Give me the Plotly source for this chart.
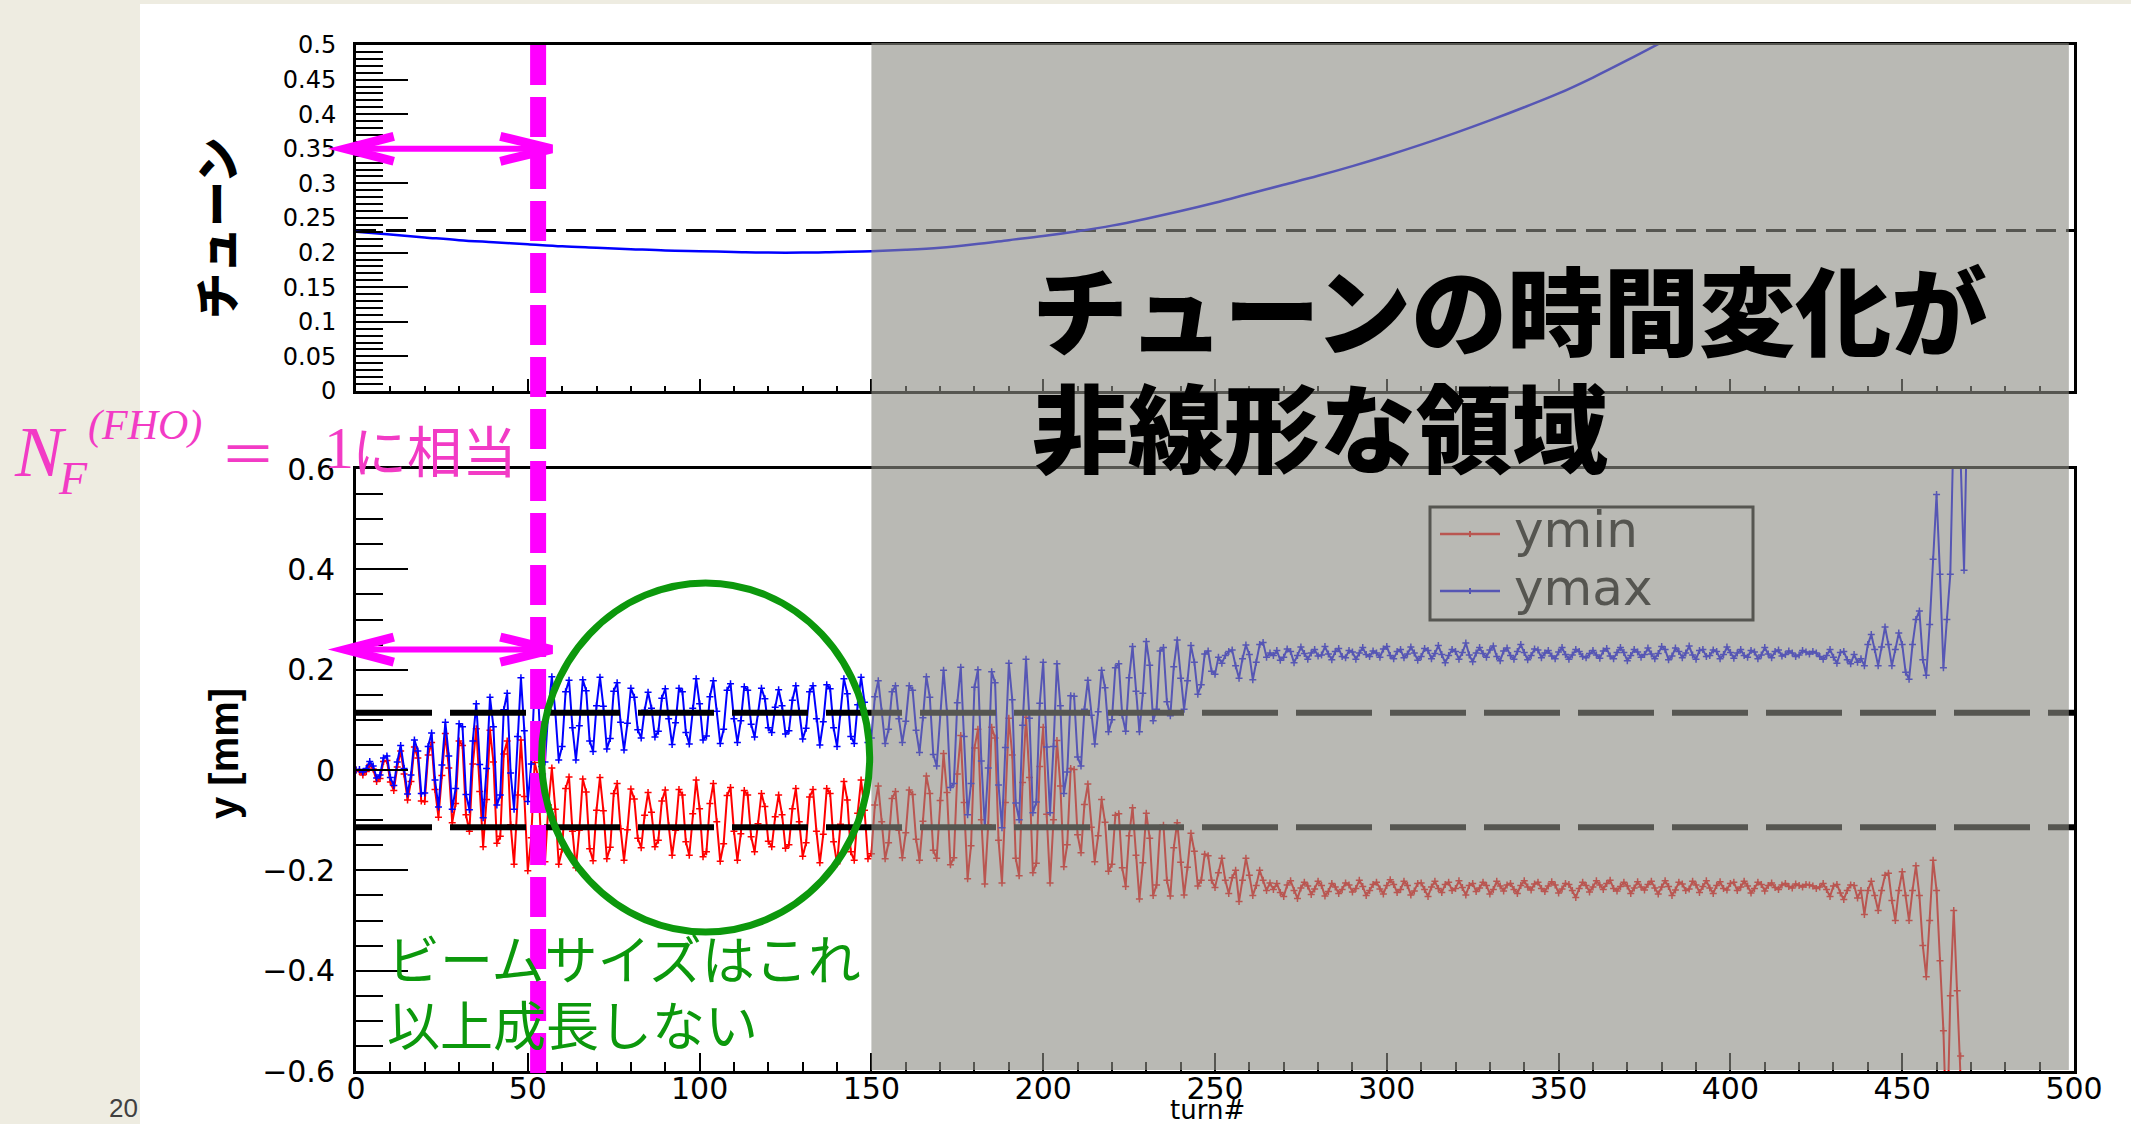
import plotly.graph_objects as go

W, H = 2131, 1124

# ---------------- upper panel: tune vs turn ----------------
tune_turn = [0, 10, 20, 30, 40, 50, 60, 70, 80, 90, 100, 110, 120, 130, 140, 150,
             160, 170, 180, 190, 200, 210, 220, 230, 240, 250, 260, 270, 280, 290,
             300, 310, 320, 330, 340, 350, 360, 370, 380]
tune_val = [0.230, 0.226, 0.222, 0.218, 0.215, 0.212, 0.209, 0.207, 0.205, 0.203,
            0.202, 0.201, 0.200, 0.200, 0.201, 0.202, 0.204, 0.207, 0.212, 0.218,
            0.224, 0.231, 0.239, 0.249, 0.260, 0.272, 0.285, 0.298, 0.311, 0.325,
            0.340, 0.356, 0.373, 0.391, 0.410, 0.430, 0.453, 0.478, 0.504]
tune_ref = 0.232

# ---------------- lower panel: beam edges per turn ----------------
ymax = [
    # 0-54
    0.000, 0.001, -0.004, 0.003, 0.017, 0.008, -0.016, -0.010, 0.024, 0.028,
    -0.015, -0.031, 0.016, 0.049, 0.003, -0.048, -0.010, 0.060, 0.038, -0.047,
    -0.046, 0.047, 0.074, -0.020, -0.074, 0.010, 0.095, 0.028, -0.078, -0.037,
    0.092, 0.086, -0.049, -0.079, 0.058, 0.132, 0.011, -0.095, 0.003, 0.145,
    0.086, -0.070, -0.050, 0.120, 0.153, -0.006, -0.078, 0.067, 0.184, 0.078,
    -0.063, 0.012, 0.171, 0.151, 0.007,
    # 55-100
    0.016, 0.120, 0.186, 0.116, 0.020, 0.047, 0.156, 0.179, 0.084, 0.020,
    0.088, 0.180, 0.158, 0.058, 0.037, 0.128, 0.185, 0.127, 0.042, 0.063,
    0.157, 0.174, 0.095, 0.040, 0.093, 0.163, 0.145, 0.080, 0.064, 0.119,
    0.155, 0.123, 0.066, 0.077, 0.143, 0.162, 0.102, 0.051, 0.094, 0.163,
    0.156, 0.075, 0.052, 0.123, 0.182, 0.132,
    # 101-150
    0.060, 0.068, 0.146, 0.178, 0.117, 0.053, 0.081, 0.159, 0.172, 0.102,
    0.055, 0.098, 0.166, 0.159, 0.091, 0.066, 0.113, 0.163, 0.142, 0.084,
    0.075, 0.125, 0.160, 0.128, 0.072, 0.078, 0.139, 0.168, 0.117, 0.062,
    0.083, 0.156, 0.168, 0.102, 0.050, 0.096, 0.170, 0.162, 0.084, 0.047,
    0.113, 0.182, 0.152, 0.067, 0.053, 0.130, 0.185, 0.135, 0.055, 0.064,
    # 151-205
    0.146, 0.178, 0.117, 0.053, 0.081, 0.156, 0.168, 0.102, 0.055, 0.097,
    0.168, 0.159, 0.079, 0.035, 0.104, 0.186, 0.145, 0.031, 0.008, 0.111,
    0.199, 0.115, -0.035, -0.027, 0.134, 0.205, 0.067, -0.089, -0.027, 0.165,
    0.200, 0.018, -0.112, 0.004, 0.196, 0.174, -0.030, -0.115, 0.045, 0.213,
    0.140, -0.066, -0.099, 0.089, 0.221, 0.103, -0.085, -0.064, 0.133, 0.215,
    0.046, -0.085, 0.047, 0.212, 0.128,
    # 206-250
    -0.047, -0.004, 0.148, 0.147, 0.026, 0.008, 0.121, 0.179, 0.109, 0.052,
    0.116, 0.199, 0.164, 0.076, 0.100, 0.204, 0.212, 0.109, 0.077, 0.184,
    0.246, 0.157, 0.076, 0.153, 0.256, 0.209, 0.098, 0.121, 0.237, 0.244,
    0.136, 0.108, 0.206, 0.259, 0.183, 0.121, 0.178, 0.248, 0.215, 0.151,
    0.170, 0.231, 0.237, 0.197, 0.191,
    # 251-266
    0.225, 0.213, 0.228, 0.236, 0.239, 0.208, 0.183, 0.222, 0.249, 0.230,
    0.180, 0.215, 0.250, 0.254, 0.225, 0.233,
    # 267-435
    0.228, 0.238, 0.219, 0.225, 0.241, 0.236, 0.214, 0.228, 0.245, 0.232,
    0.221, 0.233, 0.240, 0.227, 0.229, 0.246, 0.231, 0.220, 0.236, 0.242,
    0.226, 0.224, 0.238, 0.235, 0.221, 0.233, 0.244, 0.230, 0.226, 0.237,
    0.233, 0.225, 0.241, 0.246, 0.228, 0.222, 0.236, 0.240, 0.224, 0.231,
    0.245, 0.233, 0.219, 0.226, 0.242, 0.238, 0.222, 0.232, 0.248, 0.230,
    0.214, 0.228, 0.240, 0.236, 0.221, 0.234, 0.253, 0.229, 0.216, 0.233,
    0.244, 0.232, 0.225, 0.239, 0.247, 0.226, 0.218, 0.237, 0.243, 0.228,
    0.221, 0.236, 0.250, 0.234, 0.220, 0.228, 0.241, 0.239, 0.224, 0.233,
    0.238, 0.227, 0.222, 0.235, 0.244, 0.230, 0.221, 0.229, 0.240, 0.236,
    0.226, 0.224, 0.232, 0.238, 0.229, 0.223, 0.237, 0.242, 0.227, 0.222,
    0.234, 0.244, 0.234, 0.218, 0.228, 0.240, 0.235, 0.225, 0.230, 0.243,
    0.231, 0.222, 0.232, 0.246, 0.240, 0.220, 0.227, 0.243, 0.236, 0.224,
    0.233, 0.247, 0.229, 0.221, 0.238, 0.240, 0.226, 0.228, 0.239, 0.236,
    0.222, 0.230, 0.245, 0.234, 0.223, 0.233, 0.240, 0.228, 0.225, 0.238,
    0.235, 0.222, 0.229, 0.244, 0.231, 0.224, 0.236, 0.239, 0.227, 0.230,
    0.237, 0.233, 0.226, 0.229, 0.238, 0.235, 0.231, 0.236, 0.233, 0.226,
    0.221, 0.228, 0.240, 0.225, 0.213, 0.234, 0.236, 0.220, 0.212,
    # 436-469
    0.230, 0.215, 0.222, 0.208, 0.250, 0.270, 0.240, 0.208, 0.245, 0.285,
    0.250, 0.208, 0.240, 0.273, 0.250, 0.195, 0.181, 0.250, 0.300, 0.317,
    0.220, 0.189, 0.290, 0.420, 0.549, 0.390, 0.204, 0.300, 0.390, 0.700,
    0.900, 0.620, 0.398, 0.750,
]

ymin = [
    # 0-54
    0.000, -0.003, -0.010, -0.003, 0.011, 0.002, -0.023, -0.017, 0.017, 0.019,
    -0.024, -0.041, 0.006, 0.038, -0.008, -0.060, -0.023, 0.046, 0.024, -0.062,
    -0.063, 0.030, 0.055, -0.039, -0.094, -0.011, 0.073, 0.004, -0.105, -0.067,
    0.058, 0.049, -0.089, -0.122, 0.012, 0.082, -0.043, -0.153, -0.059, 0.079,
    0.016, -0.146, -0.132, 0.032, 0.058, -0.109, -0.188, -0.050, 0.060, -0.053,
    -0.201, -0.135, 0.015, -0.013, -0.165,
    # 55-100
    -0.183, -0.070, 0.004, -0.078, -0.188, -0.158, -0.037, -0.014, -0.122, -0.195,
    -0.120, -0.018, -0.044, -0.157, -0.181, -0.080, -0.015, -0.081, -0.177, -0.154,
    -0.047, -0.027, -0.117, -0.180, -0.119, -0.038, -0.058, -0.136, -0.155, -0.090,
    -0.045, -0.084, -0.153, -0.140, -0.062, -0.040, -0.111, -0.170, -0.120, -0.039,
    -0.050, -0.143, -0.170, -0.087, -0.020, -0.077,
    # 101-150
    -0.173, -0.163, -0.067, -0.027, -0.103, -0.182, -0.147, -0.051, -0.035, -0.122,
    -0.180, -0.127, -0.041, -0.050, -0.133, -0.163, -0.107, -0.047, -0.073, -0.142,
    -0.153, -0.093, -0.050, -0.089, -0.156, -0.149, -0.077, -0.037, -0.103, -0.172,
    -0.145, -0.054, -0.039, -0.122, -0.185, -0.128, -0.037, -0.047, -0.143, -0.187,
    -0.108, -0.023, -0.060, -0.163, -0.180, -0.086, -0.020, -0.080, -0.177, -0.167,
    # 151-205
    -0.070, -0.032, -0.103, -0.177, -0.145, -0.057, -0.043, -0.120, -0.175, -0.125,
    -0.040, -0.049, -0.138, -0.180, -0.102, -0.012, -0.047, -0.160, -0.176, -0.061,
    0.033, -0.045, -0.189, -0.175, -0.008, 0.069, -0.065, -0.217, -0.151, 0.044,
    0.081, -0.099, -0.227, -0.109, 0.085, 0.064, -0.140, -0.225, -0.065, 0.103,
    0.030, -0.176, -0.211, -0.025, 0.105, -0.015, -0.205, -0.186, 0.007, 0.085,
    -0.088, -0.225, -0.099, 0.059, -0.032,
    # 206-250
    -0.193, -0.149, 0.003, 0.001, -0.129, -0.165, -0.069, -0.028, -0.114, -0.183,
    -0.131, -0.059, -0.104, -0.202, -0.188, -0.090, -0.087, -0.195, -0.232, -0.131,
    -0.075, -0.170, -0.257, -0.185, -0.086, -0.136, -0.250, -0.229, -0.115, -0.110,
    -0.220, -0.251, -0.155, -0.105, -0.184, -0.249, -0.194, -0.126, -0.162, -0.231,
    -0.220, -0.168, -0.171, -0.220, -0.234,
    # 251-266
    -0.205, -0.176, -0.220, -0.246, -0.215, -0.200, -0.262, -0.220, -0.176, -0.210,
    -0.250, -0.230, -0.200, -0.220, -0.240, -0.225,
    # 267-435
    -0.238, -0.226, -0.244, -0.252, -0.229, -0.221, -0.240, -0.256, -0.235, -0.224,
    -0.231, -0.248, -0.237, -0.222, -0.230, -0.251, -0.242, -0.226, -0.233, -0.246,
    -0.238, -0.225, -0.229, -0.243, -0.236, -0.220, -0.232, -0.250, -0.240, -0.228,
    -0.224, -0.237, -0.247, -0.230, -0.219, -0.228, -0.244, -0.238, -0.222, -0.230,
    -0.249, -0.241, -0.226, -0.225, -0.238, -0.252, -0.233, -0.222, -0.236, -0.244,
    -0.228, -0.224, -0.240, -0.236, -0.221, -0.234, -0.249, -0.230, -0.226, -0.242,
    -0.235, -0.224, -0.230, -0.247, -0.238, -0.222, -0.231, -0.241, -0.229, -0.226,
    -0.238, -0.246, -0.230, -0.221, -0.233, -0.239, -0.227, -0.224, -0.236, -0.242,
    -0.231, -0.223, -0.229, -0.245, -0.237, -0.226, -0.228, -0.240, -0.254, -0.236,
    -0.224, -0.230, -0.243, -0.233, -0.221, -0.229, -0.238, -0.226, -0.220, -0.236,
    -0.241, -0.232, -0.224, -0.231, -0.246, -0.235, -0.223, -0.233, -0.239, -0.228,
    -0.222, -0.235, -0.247, -0.233, -0.221, -0.232, -0.250, -0.239, -0.224, -0.227,
    -0.240, -0.237, -0.222, -0.229, -0.244, -0.232, -0.221, -0.235, -0.246, -0.230,
    -0.223, -0.236, -0.239, -0.226, -0.224, -0.240, -0.233, -0.222, -0.231, -0.245,
    -0.236, -0.224, -0.228, -0.241, -0.230, -0.225, -0.234, -0.238, -0.229, -0.226,
    -0.232, -0.235, -0.227, -0.230, -0.233, -0.228, -0.229, -0.231, -0.236, -0.233,
    -0.226, -0.238, -0.252, -0.231, -0.228, -0.245, -0.258, -0.240, -0.229,
    # 436-469
    -0.230, -0.255, -0.240, -0.288, -0.240, -0.222, -0.250, -0.280, -0.240, -0.210,
    -0.206, -0.260, -0.300, -0.240, -0.203, -0.250, -0.300, -0.240, -0.191, -0.250,
    -0.350, -0.412, -0.300, -0.180, -0.240, -0.380, -0.520, -0.750, -0.450, -0.280,
    -0.440, -0.570, -0.800, -0.950,
]
turn_max = list(range(len(ymax)))
turn_min = list(range(len(ymin)))

size_limit = 0.114          # horizontal reference for the beam size
nf_turn = 53                # turn where N_F^(FHO) = 1
nonlinear_from, nonlinear_to = 150, 498.5
ellipse_turns = (54, 149.5)
ellipse_y = (-0.323, 0.373)
arrow_turns = (-3, 57)
arrow_top_y, arrow_bot_y = 0.35, 0.24

x_ticks = list(range(0, 501, 50))

# ---------------- page geometry (pixels) ----------------
PL, PR = 356, 2074          # plot left / right
TT, TB = 45, 391            # upper panel top / bottom
BT, BB = 469, 1071          # lower panel top / bottom


def px(x):
    return x / W


def py(y):
    return 1 - y / H


def xpaper(t):
    return px(PL + (PR - PL) * t / 500)


def ytop(v):
    return py(TB - (TB - TT) * v / 0.5)


def ybot(v):
    return py(BB - (BB - BT) * (v + 0.6) / 1.2)


MAG = '#FF00FF'
PINK_TXT = '#F23BC5'
GREEN = '#0C980C'
TICKFONT = 'DejaVu Sans'
JP = 'Noto Sans CJK JP'

fig = go.Figure()

# beam edges
fig.add_trace(go.Scatter(
    x=turn_min, y=ymin, mode='lines+markers', name='ymin',
    line=dict(color='#FF0000', width=2),
    marker=dict(symbol='cross-thin', size=5, color='#FF0000',
                line=dict(color='#FF0000', width=1.5)),
    xaxis='x', yaxis='y', showlegend=False))
fig.add_trace(go.Scatter(
    x=turn_max, y=ymax, mode='lines+markers', name='ymax',
    line=dict(color='#0000FF', width=2),
    marker=dict(symbol='cross-thin', size=5, color='#0000FF',
                line=dict(color='#0000FF', width=1.5)),
    xaxis='x', yaxis='y', showlegend=False))

# beam size reference lines
for lvl in (size_limit, -size_limit):
    fig.add_trace(go.Scatter(
        x=[0, 500], y=[lvl, lvl], mode='lines',
        line=dict(color='black', width=6, dash='76px,18px'),
        xaxis='x', yaxis='y', showlegend=False, hoverinfo='skip'))

# tune curve and its reference
fig.add_trace(go.Scatter(
    x=[0, 500], y=[tune_ref, tune_ref], mode='lines',
    line=dict(color='black', width=3, dash='20px,10px'),
    xaxis='x2', yaxis='y2', showlegend=False, hoverinfo='skip'))
fig.add_trace(go.Scatter(
    x=tune_turn, y=tune_val, mode='lines',
    line=dict(color='#0000FF', width=2.5, shape='spline'),
    xaxis='x2', yaxis='y2', showlegend=False))

shapes = []
# slide area
shapes.append(dict(type='rect', xref='paper', yref='paper',
                   x0=px(140), x1=1, y0=0, y1=py(4),
                   fillcolor='white', line=dict(width=0), layer='below'))

# legend box and samples (under the shaded band)
LX0, LX1, LY0, LY1 = 1430, 1753, 507, 620
shapes.append(dict(type='rect', xref='paper', yref='paper',
                   x0=px(LX0), x1=px(LX1), y0=py(LY1), y1=py(LY0),
                   fillcolor='white', line=dict(color='black', width=3),
                   layer='above'))
for yy, col in ((534, '#FF0000'), (591, '#0000FF')):
    shapes.append(dict(type='line', xref='paper', yref='paper',
                       x0=px(1440), x1=px(1500), y0=py(yy), y1=py(yy),
                       line=dict(color=col, width=2.5), layer='above'))
    shapes.append(dict(type='line', xref='paper', yref='paper',
                       x0=px(1470), x1=px(1470), y0=py(yy - 3), y1=py(yy + 3),
                       line=dict(color=col, width=2), layer='above'))

# shaded band: nonlinear tune region
shapes.append(dict(type='rect', xref='x', yref='paper',
                   x0=nonlinear_from, x1=nonlinear_to,
                   y0=py(BB - 1), y1=py(TT - 2),
                   fillcolor='rgba(140,140,132,0.61)', line=dict(width=0),
                   layer='above'))

# N_F = 1 marker line
shapes.append(dict(type='line', xref='x', yref='paper',
                   x0=nf_turn, x1=nf_turn, y0=py(TT), y1=py(BB + 3),
                   line=dict(color=MAG, width=16, dash='40px,12px'),
                   layer='above'))

# double arrows
for yfun, v, hh in ((ytop, arrow_top_y, 0.018), (ybot, arrow_bot_y, 0.025)):
    a0, a1 = arrow_turns
    shapes.append(dict(type='line', xref='paper', yref='paper',
                       x0=xpaper(a0), x1=xpaper(a1), y0=yfun(v), y1=yfun(v),
                       line=dict(color=MAG, width=6), layer='above'))
    for tip, back in ((a0, a0 + 14), (a1, a1 - 15)):
        path = 'M {:.5f},{:.5f} L {:.5f},{:.5f} L {:.5f},{:.5f}'.format(
            xpaper(back), yfun(v + hh), xpaper(tip), yfun(v),
            xpaper(back), yfun(v - hh))
        shapes.append(dict(type='path', xref='paper', yref='paper', path=path,
                           line=dict(color=MAG, width=9), layer='above'))

# highlighted region
shapes.append(dict(type='circle', xref='x', yref='y',
                   x0=ellipse_turns[0], x1=ellipse_turns[1],
                   y0=ellipse_y[0], y1=ellipse_y[1],
                   line=dict(color=GREEN, width=7), layer='above'))

annotations = []


def note(text, x, y, size, color='black', family=JP, xanchor='left',
         yanchor='middle', angle=0, weight='normal', style='normal'):
    annotations.append(dict(
        text=text, x=px(x), y=py(y), xref='paper', yref='paper',
        xanchor=xanchor, yanchor=yanchor, showarrow=False, textangle=angle,
        font=dict(family=family, size=size, color=color, weight=weight,
                  style=style)))


# headline
note('チューンの時間変化が', 1030, 306, 96, weight=900)
note('非線形な領域', 1030, 423, 96, weight=900)

# green comment
note('ビームサイズはこれ', 385, 957, 53, color=GREEN)
note('以上成長しない', 385, 1023, 53, color=GREEN)

# N_F^(FHO) = 1 label
SERIF = 'Liberation Serif'
note('N', 12, 452, 72, color=PINK_TXT, family=SERIF, style='italic')
note('(FHO)', 86, 426, 42, color=PINK_TXT, family=SERIF, style='italic')
note('F', 56, 478, 46, color=PINK_TXT, family=SERIF, style='italic')
note('＝', 218, 450, 56, color=PINK_TXT)
note('1', 322, 448, 60, color=PINK_TXT, family=SERIF)
note('に相当', 350, 448, 55, color=PINK_TXT)

# axis titles
note('チューン', 214, 228, 46, xanchor='center', angle=-90, weight=900)
note('y [mm]', 224, 754, 40, family='Liberation Sans', xanchor='center',
     angle=-90, weight='bold')
note('turn#', 1207, 1110, 26, family=TICKFONT, xanchor='center')

# legend labels
note('ymin', 1512, 530, 50, color='#555550', family=TICKFONT)
note('ymax', 1512, 588, 50, color='#555550', family=TICKFONT)

# page footer fragment
note('20', 140, 1108, 26, color='#404040', family='Liberation Sans',
     xanchor='right')

axis_common = dict(showline=True, linecolor='black', linewidth=3, mirror=True,
                   showgrid=False, zeroline=False, ticks='inside',
                   tickcolor='black', tickwidth=2, automargin=False)

fig.update_layout(
    template='none',
    width=W, height=H, autosize=False,
    margin=dict(l=0, r=0, t=0, b=0, pad=0, autoexpand=False),
    paper_bgcolor='#EEECE1', plot_bgcolor='white',
    font=dict(family=TICKFONT, color='black'),
    showlegend=False,
    xaxis=dict(domain=[px(PL), px(PR)], range=[0, 500], anchor='y',
               tickvals=x_ticks, ticklen=18,
               minor=dict(ticks='inside', ticklen=9, dtick=10, tickwidth=2,
                          tickcolor='black'),
               tickfont=dict(family=TICKFONT, size=30, color='black'),
               ticklabelstandoff=-11, **axis_common),
    yaxis=dict(domain=[py(BB), py(BT)], range=[-0.6, 0.6], anchor='x',
               dtick=0.2, tick0=0, ticklen=52,
               minor=dict(ticks='inside', ticklen=27, dtick=0.05, tickwidth=2,
                          tickcolor='black'),
               tickfont=dict(family=TICKFONT, size=30, color='black'),
               ticklabelstandoff=12, **axis_common),
    xaxis2=dict(domain=[px(PL), px(PR)], range=[0, 500], anchor='y2',
                tickvals=x_ticks, ticklen=12, showticklabels=False,
                minor=dict(ticks='inside', ticklen=5, dtick=10, tickwidth=2,
                           tickcolor='black'),
                **axis_common),
    yaxis2=dict(domain=[py(TB), py(TT)], range=[0, 0.5], anchor='x2',
                dtick=0.05, tick0=0, ticklen=52,
                minor=dict(ticks='inside', ticklen=27, dtick=0.01, tickwidth=2,
                           tickcolor='black'),
                tickfont=dict(family=TICKFONT, size=24, color='black'),
                ticklabelstandoff=12, **axis_common),
    shapes=shapes,
    annotations=annotations,
)

fig.write_html('out.html', include_plotlyjs=True,
               config={'displayModeBar': False})
